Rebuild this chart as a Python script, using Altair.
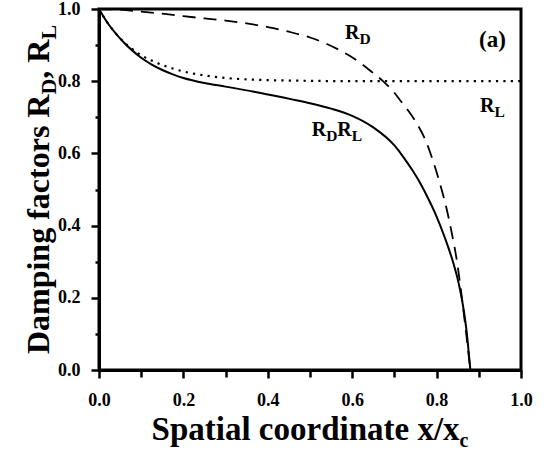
import altair as alt
import pandas as pd

# ---- curve samples (x / x_c, damping factor) ----
# R_L : dotted
rl_x = [0.0, 0.02, 0.04, 0.06, 0.08, 0.10, 0.125, 0.15, 0.175, 0.20, 0.25, 0.30, 0.35, 0.40,
        0.50, 0.60, 0.80, 1.0]
rl_y = [1.0, 0.962, 0.932, 0.907, 0.888, 0.872, 0.857, 0.845, 0.835, 0.827, 0.816, 0.809,
        0.805, 0.803, 0.801, 0.800, 0.800, 0.800]

# R_D : dashed
rd_x = [0.0, 0.05, 0.10, 0.15, 0.20, 0.25, 0.30, 0.35, 0.40, 0.45, 0.50, 0.54, 0.59, 0.62,
        0.646, 0.673, 0.70, 0.713, 0.733, 0.753, 0.776, 0.787, 0.807, 0.823, 0.835, 0.847,
        0.855, 0.862, 0.870, 0.880]
rd_y = [1.0, 0.998, 0.993, 0.987, 0.980, 0.974, 0.968, 0.960, 0.950, 0.937, 0.921, 0.903,
        0.873, 0.850, 0.826, 0.800, 0.768, 0.748, 0.718, 0.683, 0.630, 0.595, 0.520, 0.450,
        0.385, 0.310, 0.245, 0.180, 0.102, 0.0]

# R_D * R_L : solid
rdl_x = [0.0, 0.02, 0.04, 0.06, 0.08, 0.10, 0.125, 0.15, 0.175, 0.20, 0.25, 0.30, 0.38, 0.46,
         0.50, 0.55, 0.60, 0.65, 0.70, 0.72, 0.74, 0.76, 0.78, 0.80, 0.82, 0.84, 0.85, 0.86,
         0.87, 0.88]
rdl_y = [1.0, 0.962, 0.932, 0.906, 0.884, 0.865, 0.846, 0.831, 0.819, 0.809, 0.795, 0.785,
         0.768, 0.749, 0.739, 0.724, 0.704, 0.672, 0.622, 0.592, 0.558, 0.520, 0.475, 0.425,
         0.365, 0.295, 0.252, 0.196, 0.118, 0.0]

major_ticks = [0.0, 0.2, 0.4, 0.6, 0.8, 1.0]
minor_ticks = [0.1, 0.3, 0.5, 0.7, 0.9]

FONT = "Liberation Serif"
# advance widths (1/1000 em) of the bold serif face, for laying out subscripts
ADV = {
    " ": 250, ",": 250, "/": 278, "(": 333, ")": 333,
    "D": 722, "L": 667, "R": 722, "S": 556,
    "a": 500, "c": 444, "d": 556, "e": 444, "f": 333, "g": 500, "i": 278, "l": 278,
    "m": 833, "n": 556, "o": 500, "p": 556, "r": 444, "s": 389, "t": 333, "x": 500,
}


def text_width(s, size):
    return sum(ADV[c] for c in s) * size / 1000.0


xs = alt.Scale(domain=[0, 1], nice=False, zero=False)
ys = alt.Scale(domain=[0, 1], nice=False, zero=False)

axis_style = dict(
    labelFont=FONT, labelFontWeight="bold", labelFontSize=18, labelColor="black",
    domainColor="black", domainWidth=3, tickColor="black", tickWidth=2.5,
    grid=False, title=None,
)

major_x = alt.Axis(values=major_ticks, format=".1f", orient="bottom", tickSize=8,
                   labelPadding=13, labelFlush=False, **axis_style)
minor_x = alt.Axis(values=minor_ticks, orient="bottom", tickSize=7, labels=False,
                   domain=False, **axis_style)
major_y = alt.Axis(values=major_ticks, format=".1f", orient="left", tickSize=8,
                   labelPadding=11, **axis_style)
minor_y = alt.Axis(values=minor_ticks, orient="left", tickSize=4, labels=False,
                   domain=False, **axis_style)


def curve(xv, yv, xaxis, yaxis, **style):
    df = pd.DataFrame({"x": xv, "y": yv})
    return alt.Chart(df).mark_line(color="black", interpolate="monotone", **style).encode(
        x=alt.X("x:Q", scale=xs, axis=xaxis),
        y=alt.Y("y:Q", scale=ys, axis=yaxis),
        order="x:Q",
    )


def rich_text(pieces, size, sub_size, drop, pos, align="left", angle=0):
    """Lay out a label made of normal and subscript pieces as consecutive text marks.

    pieces: list of (string, is_subscript); pos: dict with x/y anchor (data or pixel).
    """
    widths = [text_width(s, sub_size if sub else size) for s, sub in pieces]
    total = sum(widths)
    off = {"left": 0.0, "center": -total / 2.0, "right": -total}[align]
    layers = []
    for (s, sub), w in zip(pieces, widths):
        row = {"t": [s]}
        enc = {"text": "t:N"}
        if "data" in pos:
            row["x"] = [pos["data"][0]]
            row["y"] = [pos["data"][1]]
            enc["x"] = alt.X("x:Q", scale=xs, axis=None)
            enc["y"] = alt.Y("y:Q", scale=ys, axis=None)
        else:
            enc["x"] = alt.value(pos["px"][0])
            enc["y"] = alt.value(pos["px"][1])
        mark = dict(align="left", baseline="alphabetic", dx=off, dy=drop if sub else 0,
                    font=FONT, fontWeight="bold", fontSize=sub_size if sub else size,
                    color="black")
        if angle:
            mark["angle"] = angle
        layers.append(alt.Chart(pd.DataFrame(row)).mark_text(**mark).encode(**enc))
        off += w
    return layers


W, H = 422, 361

layers = [
    curve(rl_x, rl_y, major_x, major_y, strokeWidth=2.2, strokeDash=[2.2, 5.2]),
    curve(rd_x, rd_y, None, None, strokeWidth=1.8, strokeDash=[13, 8]),
    curve(rdl_x, rdl_y, minor_x, minor_y, strokeWidth=2),
]

# curve labels
layers += rich_text([("R", False), ("D", True)], 20, 15.5, 5, {"data": (0.583, 0.917)})
layers += rich_text([("R", False), ("L", True)], 20, 15.5, 5, {"data": (0.903, 0.715)})
layers += rich_text([("R", False), ("D", True), ("R", False), ("L", True)], 20, 15.5, 5,
                    {"data": (0.504, 0.649)})
layers += rich_text([("(a)", False)], 23, 23, 0, {"data": (0.9325, 0.895)}, align="center")

# axis titles
layers += rich_text([("Spatial coordinate x/x", False), ("c", True)], 33, 20, 7,
                    {"px": (W / 2.0, 431)}, align="center")
layers += rich_text([("Damping factors R", False), ("D", True), (", R", False), ("L", True)],
                    32, 22, 7, {"px": (-50, H / 2.0)}, align="center", angle=270)

chart = (
    alt.layer(*layers)
    .resolve_axis(x="independent", y="independent")
    .properties(
        width=W,
        height=H,
        padding={"left": 99, "top": 9, "right": 27, "bottom": 81},
        autosize=alt.AutoSizeParams(type="none"),
        background="white",
    )
    .configure_view(stroke="black", strokeWidth=3)
)

chart.save("out.html", embed_options={"renderer": "svg", "actions": False})
